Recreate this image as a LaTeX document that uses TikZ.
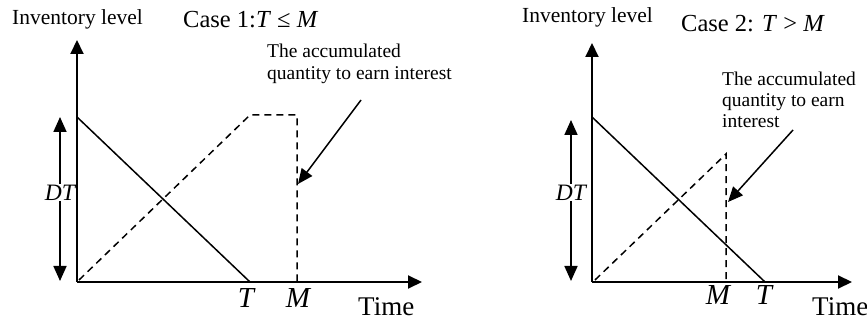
\documentclass[tikz,border=0pt]{standalone}
\usepackage{fontspec}
\setmainfont{Liberation Serif}
\usepackage{tikz}
\usetikzlibrary{positioning,arrows.meta,calc}
\tikzset{
  axis/.style    = {line width=2pt, -{Triangle[length=14pt,width=13pt]}},
  demand/.style  = {line width=1.5pt},
  accum/.style   = {line width=1.5pt, dash pattern=on 7pt off 5pt},
  span/.style    = {line width=1.7pt, {Triangle[length=15pt,width=13pt]}-{Triangle[length=15pt,width=13pt]}},
  pointer/.style = {line width=1.5pt, -{Triangle[length=15pt,width=13pt]}},
  txt/.style     = {inner sep=0pt, anchor=base west},
  ttl/.style     = {txt, font=\fontsize{21.5}{24}\selectfont},
  cse/.style     = {txt, font=\fontsize{24.5}{26}\selectfont},
  note/.style    = {txt, font=\fontsize{19.5}{22}\selectfont},
  tick/.style    = {inner sep=0pt, anchor=base, font=\fontsize{29}{30}\selectfont\itshape},
  tme/.style     = {txt, font=\fontsize{27}{30}\selectfont},
  dtl/.style     = {inner sep=1pt, fill=white, font=\fontsize{23.5}{26}\selectfont\itshape},
}

\begin{document}
\begin{tikzpicture}[x=1pt, y=-1pt]
  \useasboundingbox (0,0) rectangle (867,320);

  % Case 1: T <= M
  \coordinate (o1) at (77,282);
  \coordinate (ytop1) at (77,40);
  \coordinate (xend1) at (422,282);
  \coordinate (q1) at (77,117);
  \coordinate (t1) at (250,282);
  \coordinate (ds1) at (79,280);
  \coordinate (dk1) at (250,115);
  \coordinate (dm1) at (297,115);
  \coordinate (m1) at (297,282);
  \coordinate (dtt1) at (60,117);
  \coordinate (dtb1) at (60,281);
  \coordinate (pa1) at (361,100);
  \coordinate (pb1) at (298,184);

  \node[ttl] (inv1) at (12,25) {Inventory level};
  \node[cse] (case1) at (183,28) {Case 1:\textit{T} ≤ \textit{M}};
  \node[note] (acc1a) at (267,58) {The accumulated};
  \node[note] (acc1b) at (267,80) {quantity to earn interest};
  \node[tick] (lt1) at (246,307) {T};
  \node[tick] (lm1) at (298,307) {M};
  \node[tme] (time1) at (358,315) {Time};

  \draw[axis] (o1) -- (ytop1);
  \draw[axis] (o1) -- (xend1);
  \draw[demand] (q1) -- (t1);
  \draw[accum] (ds1) -- (dk1) -- (dm1) -- (m1);
  \draw[span] (dtt1) -- (dtb1) node[dtl, pos=0.46] (dt1) {DT};
  \draw[pointer] (pa1) -- (pb1);

  % Case 2: T > M
  \coordinate (o2) at (592,282);
  \coordinate (ytop2) at (592,43);
  \coordinate (xend2) at (852,282);
  \coordinate (q2) at (592,117);
  \coordinate (t2) at (765,282);
  \coordinate (ds2) at (595,280);
  \coordinate (dk2) at (726,154);
  \coordinate (m2) at (726,282);
  \coordinate (dtt2) at (571,120);
  \coordinate (dtb2) at (571,281);
  \coordinate (pa2) at (793,130);
  \coordinate (pb2) at (728,202);

  \node[ttl] (inv2) at (522,23) {Inventory level};
  \node[cse] (case2) at (681,32) {Case 2: \textit{T} > \textit{M}};
  \node[note] (acc2a) at (722,86) {The accumulated};
  \node[note] (acc2b) at (722,107) {quantity to earn};
  \node[note] (acc2c) at (722,128) {interest};
  \node[tick] (lm2) at (718,305) {M};
  \node[tick] (lt2) at (764,305) {T};
  \node[tme] (time2) at (812,315) {Time};

  \draw[axis] (o2) -- (ytop2);
  \draw[axis] (o2) -- (xend2);
  \draw[demand] (q2) -- (t2);
  \draw[accum] (ds2) -- (dk2) -- (m2);
  \draw[span] (dtt2) -- (dtb2) node[dtl, pos=0.45] (dt2) {DT};
  \draw[pointer] (pa2) -- (pb2);
\end{tikzpicture}
\end{document}
